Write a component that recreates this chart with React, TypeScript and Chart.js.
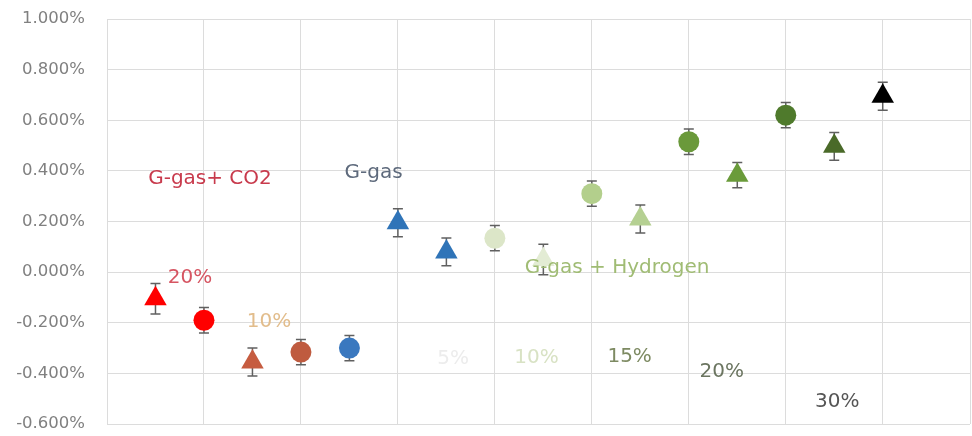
import React, { useEffect, useRef } from "react";
import { Chart, registerables } from "chart.js";

Chart.register(...registerables);

// ---- data ----
const xPositions = [0.5, 1, 1.5, 2, 2.5, 3, 3.5, 4, 4.5, 5, 5.5, 6, 6.5, 7, 7.5, 8];
const values = [-0.105, -0.19, -0.355, -0.316, -0.3, 0.195, 0.08, 0.134, 0.05, 0.31, 0.21, 0.515, 0.383, 0.62, 0.497, 0.695];
const errors = [0.06, 0.05, 0.055, 0.05, 0.05, 0.055, 0.055, 0.05, 0.06, 0.05, 0.055, 0.05, 0.05, 0.05, 0.055, 0.055];
const markerShapes = [
  "triangle", "circle", "triangle", "circle", "circle", "triangle", "triangle", "circle",
  "triangle", "circle", "triangle", "circle", "triangle", "circle", "triangle", "triangle",
];
const markerColors = [
  "#ff0000", "#ff0000", "#c65c40", "#bf5b3f", "#3a78bf", "#2f74b8", "#2f74b8", "#dce6c8",
  "#e3ecd4", "#b3cf8c", "#b5d092", "#6a993a", "#6a9b3a", "#4f7a2c", "#4a6a29", "#000000",
];
const xGridTicks = [0, 1, 2, 3, 4, 5, 6, 7, 8, 8.9];
const yMin = -0.6;
const yMax = 1.0;
const yStep = 0.2;

// text annotations (in data units)
const noteTexts = ["G-gas+ CO2", "20%", "10%", "G-gas", "5%", "10%", "15%", "G-gas + Hydrogen", "20%", "30%"];
const noteX = [1.062, 0.856, 1.67, 2.75, 3.57, 4.43, 5.39, 5.26, 6.34, 7.53];
const noteY = [0.375, -0.016, -0.19, 0.40, -0.336, -0.332, -0.328, 0.024, -0.387, -0.506];
const noteColors = ["#c83a4c", "#d65562", "#e2bd8c", "#5e6a7c", "#ececec", "#d8e2c4", "#7d8a62", "#a0bc74", "#6b7560", "#555555"];

const FONT = "'DejaVu Sans', sans-serif";

const errorBarPlugin = {
  id: "errorBars",
  beforeDatasetsDraw(chart: any) {
    const { ctx, scales } = chart;
    const xs = scales.x;
    const ys = scales.y;
    ctx.save();
    ctx.strokeStyle = "#606060";
    ctx.lineWidth = 1.5;
    xPositions.forEach((xv, i) => {
      const px = xs.getPixelForValue(xv);
      const top = ys.getPixelForValue(values[i] + errors[i]);
      const bot = ys.getPixelForValue(values[i] - errors[i]);
      ctx.beginPath();
      ctx.moveTo(px, top);
      ctx.lineTo(px, bot);
      ctx.moveTo(px - 5, top);
      ctx.lineTo(px + 5, top);
      ctx.moveTo(px - 5, bot);
      ctx.lineTo(px + 5, bot);
      ctx.stroke();
    });
    ctx.restore();
  },
};

const notesPlugin = {
  id: "notes",
  afterDatasetsDraw(chart: any) {
    const { ctx, scales } = chart;
    ctx.save();
    ctx.font = `20px ${FONT}`;
    ctx.textAlign = "center";
    ctx.textBaseline = "alphabetic";
    noteTexts.forEach((t, i) => {
      ctx.fillStyle = noteColors[i];
      const px = scales.x.getPixelForValue(noteX[i]);
      const py = scales.y.getPixelForValue(noteY[i]);
      ctx.fillText(t, px, py + 7);
    });
    ctx.restore();
  },
};

export default function App() {
  const ref = useRef<HTMLCanvasElement | null>(null);
  useEffect(() => {
    if (!ref.current) return;
    const chart = new Chart(ref.current, {
      type: "scatter",
      data: {
        datasets: [
          {
            data: xPositions.map((x, i) => ({ x, y: values[i] })),
            pointStyle: markerShapes as any,
            pointRadius: markerShapes.map((s) => (s === "triangle" ? 13 : 10.5)),
            pointBackgroundColor: markerColors,
            pointBorderColor: markerColors,
            pointBorderWidth: 0,
            showLine: false,
          },
        ],
      },
      options: {
        animation: false,
        responsive: true,
        maintainAspectRatio: false,
        layout: { autoPadding: false, padding: { top: 19, bottom: 12, left: 0, right: 2 } },
        plugins: { legend: { display: false }, tooltip: { enabled: false } },
        scales: {
          x: {
            type: "linear",
            min: 0,
            max: 8.9,
            afterBuildTicks: (scale: any) => {
              scale.ticks = xGridTicks.map((v) => ({ value: v }));
            },
            afterFit: (scale: any) => {
              scale.height = 0;
            },
            ticks: { display: false },
            grid: { color: "#dcdcdc", lineWidth: 1, drawTicks: false },
            border: { display: false },
          },
          y: {
            type: "linear",
            min: yMin,
            max: yMax,
            afterFit: (scale: any) => {
              scale.width = 107;
            },
            ticks: {
              stepSize: yStep,
              padding: 0,
              color: "#808080",
              font: { family: FONT, size: 16.5 },
              callback: (v: any) => {
                const n = Math.abs(Number(v)) < 1e-9 ? 0 : Number(v);
                return n.toFixed(3) + "%";
              },
            },
            grid: { color: "#dcdcdc", lineWidth: 1, drawTicks: true, tickLength: 22, tickColor: "rgba(0,0,0,0)" },
            border: { display: true, color: "#dcdcdc" },
          },
        },
      },
      plugins: [errorBarPlugin, notesPlugin],
    });
    return () => chart.destroy();
  }, []);
  return (
    <div style={{ position: "absolute", left: 0, top: 0, width: 972, height: 436, background: "#fff" }}>
      <canvas ref={ref} />
    </div>
  );
}
